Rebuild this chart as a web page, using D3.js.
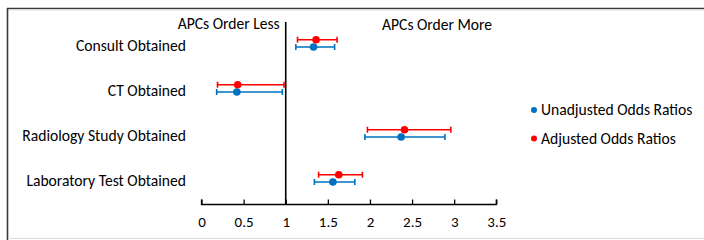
<!DOCTYPE html>
<html>
<head>
<meta charset="utf-8">
<script src="https://cdn.jsdelivr.net/npm/d3@7"></script>
<style>
  html, body { margin: 0; padding: 0; background: #fff; }
  svg { display: block; }
  text { font-family: Carlito, Calibri, Lato, "Open Sans", sans-serif; fill: #000; }
</style>
</head>
<body>
<svg id="chart" width="704" height="240"></svg>
<script>
// odds ratios with 95% CI
const categories = ["Consult Obtained", "CT Obtained", "Radiology Study Obtained", "Laboratory Test Obtained"];
const unadjusted = [1.33, 0.42, 2.37, 1.56];
const unadjustedLow = [1.12, 0.18, 1.94, 1.34];
const unadjustedHigh = [1.58, 0.96, 2.89, 1.82];
const adjusted = [1.36, 0.43, 2.41, 1.63];
const adjustedLow = [1.14, 0.19, 1.97, 1.39];
const adjustedHigh = [1.61, 0.98, 2.96, 1.91];
const xTicks = [0, 0.5, 1, 1.5, 2, 2.5, 3, 3.5];
const seriesNames = ["Unadjusted Odds Ratios", "Adjusted Odds Ratios"];

const BLUE = "#0070c0";
const RED = "#ff0000";
const LABEL_SIZE = "15.6px";

const svg = d3.select("#chart");

// frame
svg.append("line").attr("x1", 7).attr("x2", 704).attr("y1", 8.5).attr("y2", 8.5)
  .attr("stroke", "#3a3a3a").attr("stroke-width", 1.6);
svg.append("line").attr("x1", 7).attr("x2", 704).attr("y1", 10).attr("y2", 10)
  .attr("stroke", "#e4e4e4").attr("stroke-width", 1);
svg.append("line").attr("x1", 7.5).attr("x2", 7.5).attr("y1", 8).attr("y2", 240)
  .attr("stroke", "#3a3a3a").attr("stroke-width", 1.6);
svg.append("line").attr("x1", 8).attr("x2", 704).attr("y1", 238.5).attr("y2", 238.5)
  .attr("stroke", "#dcdcdc").attr("stroke-width", 1.2);

const x = d3.scaleLinear().domain([0, 3.5]).range([201.5, 496.3]);
const y = d3.scaleBand().domain(categories).range([21, 201]);
const yc = (c) => y(c) + y.bandwidth() / 2;

// x axis, ticks pointing up
const axisY = 204.5;
const xAxis = svg.append("g")
  .attr("transform", `translate(0,${axisY})`)
  .call(d3.axisTop(x).tickValues(xTicks).tickSize(5).tickFormat(d3.format("")));
xAxis.select(".domain").attr("stroke", "#000").attr("stroke-width", 1.3)
  .attr("d", `M${x(0)},-5V0H${x(3.5)}V-5`);
xAxis.selectAll(".tick line").attr("stroke", "#000").attr("stroke-width", 1.3);
xAxis.selectAll(".tick text").attr("y", 18).attr("dy", "0.32em")
  .style("font-size", "15px").style("font-family", "Carlito, Calibri, Lato, sans-serif");

// reference line at OR = 1
svg.append("line").attr("x1", x(1)).attr("x2", x(1)).attr("y1", 22).attr("y2", axisY)
  .attr("stroke", "#000").attr("stroke-width", 1.6);

svg.append("text").attr("x", x(1) - 6).attr("y", 24).attr("dy", "0.35em")
  .attr("text-anchor", "end").style("font-size", LABEL_SIZE).text("APCs Order Less");
svg.append("text").attr("x", 382).attr("y", 25).attr("dy", "0.35em")
  .style("font-size", LABEL_SIZE).text("APCs Order More");

// category labels
svg.append("g").selectAll("text").data(categories).join("text")
  .attr("x", 186).attr("y", (d) => yc(d) + 2.5).attr("dy", "0.35em")
  .attr("text-anchor", "end").style("font-size", LABEL_SIZE).text((d) => d);

function drawSeries(est, lo, hi, color, offset) {
  const g = svg.append("g");
  const rows = categories.map((c, i) => ({ c, est: est[i], lo: lo[i], hi: hi[i] }));
  g.selectAll("line.ci").data(rows).join("line").attr("class", "ci")
    .attr("x1", (d) => x(d.lo)).attr("x2", (d) => x(d.hi))
    .attr("y1", (d) => yc(d.c) + offset).attr("y2", (d) => yc(d.c) + offset)
    .attr("stroke", color).attr("stroke-width", 1.6);
  ["lo", "hi"].forEach((k) => {
    g.selectAll("line.cap-" + k).data(rows).join("line").attr("class", "cap-" + k)
      .attr("x1", (d) => x(d[k])).attr("x2", (d) => x(d[k]))
      .attr("y1", (d) => yc(d.c) + offset - 3).attr("y2", (d) => yc(d.c) + offset + 3)
      .attr("stroke", color).attr("stroke-width", 1.6);
  });
  g.selectAll("circle").data(rows).join("circle")
    .attr("cx", (d) => x(d.est)).attr("cy", (d) => yc(d.c) + offset)
    .attr("r", 3.8).attr("fill", color);
}

drawSeries(unadjusted, unadjustedLow, unadjustedHigh, BLUE, 3.5);
drawSeries(adjusted, adjustedLow, adjustedHigh, RED, -3.8);

// legend
const legend = svg.append("g");
const legendRows = [
  { name: seriesNames[0], color: BLUE, y: 110 },
  { name: seriesNames[1], color: RED, y: 138.5 }
];
legend.selectAll("circle").data(legendRows).join("circle")
  .attr("cx", 534).attr("cy", (d) => d.y).attr("r", 3).attr("fill", (d) => d.color);
legend.selectAll("text").data(legendRows).join("text")
  .attr("x", 541).attr("y", (d) => d.y).attr("dy", "0.35em")
  .style("font-size", LABEL_SIZE).text((d) => d.name);
</script>
</body>
</html>
